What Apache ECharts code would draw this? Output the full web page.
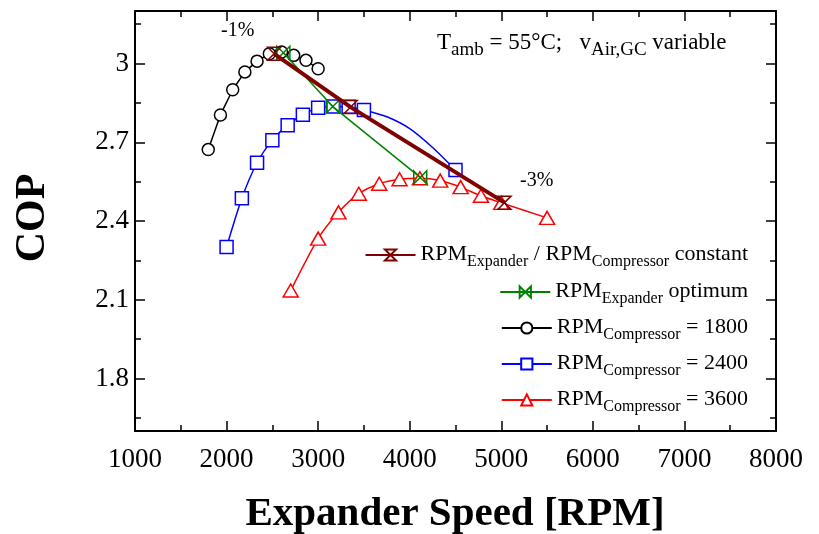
<!DOCTYPE html>
<html><head><meta charset="utf-8">
<script src="https://cdn.jsdelivr.net/npm/echarts@6/dist/echarts.min.js"></script>
<style>html,body{margin:0;padding:0;background:#fff}#c{width:819px;height:534px}</style>
</head><body><div id="c"></div>
<script>
// ---- data ----
const xTickLabels = [1000,2000,3000,4000,5000,6000,7000,8000];
const yTickLabels = [1.8,2.1,2.4,2.7,3.0];
const yMinorTicks = [1.65,1.95,2.25,2.55,2.85,3.15];

const rpm1800X = [1800,1933,2067,2200,2333,2467,2600,2733,2867,3000];
const rpm1800Y = [2.672,2.804,2.900,2.968,3.009,3.037,3.044,3.031,3.012,2.980];

const rpm2400X = [2000,2167,2333,2500,2667,2833,3000,3167,3333,3500,4500];
const rpm2400Y = [2.301,2.487,2.622,2.708,2.765,2.805,2.831,2.836,2.835,2.823,2.594];
// points (drawn without markers in the reference)
const rpm2400CurveX = [3750,4000,4250];
const rpm2400CurveY = [2.797,2.752,2.680];

const rpm3600X = [2700,3000,3222,3444,3667,3889,4111,4333,4556,4778,5000,5500];
const rpm3600Y = [2.135,2.333,2.433,2.504,2.542,2.559,2.563,2.554,2.529,2.496,2.469,2.412];

const optimumX = [2620,3160,4115];
const optimumY = [3.041,2.836,2.566];

const constantX = [2520,3355,5035];
const constantY = [3.037,2.834,2.470];

const names = {
  constant: 'RPM_Expander / RPM_Compressor constant',
  optimum: 'RPM_Expander optimum',
  c1800: 'RPM_Compressor = 1800',
  c2400: 'RPM_Compressor = 2400',
  c3600: 'RPM_Compressor = 3600'
};
const legendRich = {
  constant: '{m|RPM}{s|Expander}{m| / RPM}{s|Compressor}{m| constant}',
  optimum: '{m|RPM}{s|Expander}{m| optimum}',
  c1800: '{m|RPM}{s|Compressor}{m| = 1800}',
  c2400: '{m|RPM}{s|Compressor}{m| = 2400}',
  c3600: '{m|RPM}{s|Compressor}{m| = 3600}'
};

// ---- chart ----
const FONT = '"Liberation Serif","Times New Roman",serif';
const zip = (xs, ys) => xs.map((x, i) => [x, ys[i]]);
const chart = echarts.init(document.getElementById('c'), null, {renderer: 'canvas'});

const richStyles = {
  m: {fontFamily: FONT, fontSize: 22, color: '#000', lineHeight: 24, verticalAlign: 'top'},
  s: {fontFamily: FONT, fontSize: 16, color: '#000', lineHeight: 24, verticalAlign: 'top', padding: [11, 0, 0, 0]}
};
const noteRich = {
  m: {fontFamily: FONT, fontSize: 23, color: '#000', lineHeight: 26, verticalAlign: 'top'},
  s: {fontFamily: FONT, fontSize: 19, color: '#000', lineHeight: 26, verticalAlign: 'top', padding: [10, 0, 0, 0]}
};

const legendKeys = ['constant','optimum','c1800','c2400','c3600'];
const legendTops = [238, 275, 311, 347, 383];
const legends = legendKeys.map((k, i) => ({
  data: [names[k]],
  right: 66,
  top: legendTops[i],
  itemWidth: 50,
  itemHeight: 14,
  itemGap: 4,
  selectedMode: false,
  formatter: () => legendRich[k],
  textStyle: {rich: richStyles}
}));

const axisLine = {show: true, lineStyle: {color: '#000', width: 2}};
const hourglass = 'path://M0,0 L10,0 L0,10 L10,10 Z';
const bowtie = 'path://M0,0 L10,10 L10,0 L0,10 Z';
const tickLine = {color: '#000', width: 1.5};

const option = {
  animation: false,
  backgroundColor: '#fff',
  grid: {left: 135, right: 43, top: 11, bottom: 103},
  legend: legends,
  xAxis: [
    {type: 'value', position: 'bottom', min: 1000, max: 8000, interval: 1000,
     axisLine, splitLine: {show: false},
     axisTick: {inside: true, length: 10, lineStyle: tickLine},
     minorTick: {show: true, splitNumber: 2, length: 6, lineStyle: tickLine},
     axisLabel: {fontFamily: FONT, fontSize: 27, color: '#000', margin: 15,
                 customValues: xTickLabels, formatter: v => String(v)}},
    {type: 'value', position: 'top', min: 1000, max: 8000, interval: 1000,
     axisLine, splitLine: {show: false},
     axisTick: {inside: true, length: 10, lineStyle: tickLine},
     minorTick: {show: true, splitNumber: 2, length: 6, lineStyle: tickLine},
     axisLabel: {show: false}}
  ],
  yAxis: [
    {type: 'value', position: 'left', min: 1.6, max: 3.2,
     axisLine, splitLine: {show: false},
     axisTick: {inside: true, length: 10, customValues: yTickLabels, lineStyle: tickLine},
     axisLabel: {fontFamily: FONT, fontSize: 27, color: '#000', margin: 6, customValues: yTickLabels,
                 formatter: v => String(Math.round(v * 10) / 10)}},
    {type: 'value', position: 'left', min: 1.6, max: 3.2,
     axisLine: {show: false}, splitLine: {show: false},
     axisTick: {inside: true, length: 6, customValues: yMinorTicks, lineStyle: tickLine},
     axisLabel: {show: false}},
    {type: 'value', position: 'right', min: 1.6, max: 3.2,
     axisLine, splitLine: {show: false},
     axisTick: {inside: true, length: 10, customValues: yTickLabels, lineStyle: tickLine},
     axisLabel: {show: false}},
    {type: 'value', position: 'right', min: 1.6, max: 3.2,
     axisLine: {show: false}, splitLine: {show: false},
     axisTick: {inside: true, length: 6, customValues: yMinorTicks, lineStyle: tickLine},
     axisLabel: {show: false}}
  ],
  series: [
    {name: names.c1800, type: 'line', data: zip(rpm1800X, rpm1800Y),
     symbol: 'circle', symbolSize: 12,
     itemStyle: {color: '#fff', borderColor: '#000', borderWidth: 1.5},
     lineStyle: {color: '#000', width: 1.5}, z: 2},
    {name: names.c2400, type: 'line', smooth: 0.25,
     data: zip(rpm2400X.slice(0, 10), rpm2400Y.slice(0, 10))
       .concat(zip(rpm2400CurveX, rpm2400CurveY).map(p => ({value: p, symbol: 'none'})))
       .concat(zip(rpm2400X.slice(10), rpm2400Y.slice(10))),
     symbol: 'rect', symbolSize: 13,
     itemStyle: {color: '#fff', borderColor: '#0000ff', borderWidth: 1.5},
     lineStyle: {color: '#0000ff', width: 1.5}, z: 2},
    {name: names.c3600, type: 'line', smooth: 0.25, data: zip(rpm3600X, rpm3600Y),
     symbol: 'triangle', symbolSize: [15, 13],
     itemStyle: {color: '#fff', borderColor: '#ff0000', borderWidth: 1.5},
     lineStyle: {color: '#ff0000', width: 1.5}, z: 2},
    {name: names.optimum, type: 'line', data: zip(optimumX, optimumY),
     symbol: bowtie, symbolSize: 13,
     itemStyle: {color: 'rgba(255,255,255,0)', borderColor: '#008000', borderWidth: 1.5},
     lineStyle: {color: '#008000', width: 1.5}, z: 3},
    {name: names.constant, type: 'line', data: zip(constantX, constantY),
     symbol: hourglass, symbolSize: 13,
     itemStyle: {color: 'rgba(255,255,255,0)', borderColor: '#800000', borderWidth: 1.5},
     lineStyle: {color: '#800000', width: 4}, z: 4}
  ],
  graphic: [
    {type: 'text', left: 221, top: 21, style: {text: '-1%', font: '20px ' + FONT, fill: '#000'}},
    {type: 'text', left: 520, top: 171, style: {text: '-3%', font: '20px ' + FONT, fill: '#000'}},
    {type: 'text', left: 437, top: 31, style: {
      text: '{m|T}{s|amb}{m| = 55°C;   v}{s|Air,GC}{m| variable}',
      rich: noteRich}},
    {type: 'text', x: 455, y: 514, style: {
      text: 'Expander Speed [RPM]', font: 'bold 41px ' + FONT, fill: '#000',
      align: 'center', verticalAlign: 'middle'}},
    {type: 'text', x: 33, y: 218, rotation: Math.PI / 2, style: {
      text: 'COP', font: 'bold 42px ' + FONT, fill: '#000', align: 'center', verticalAlign: 'middle'}}
  ]
};
chart.setOption(option);
</script></body></html>
